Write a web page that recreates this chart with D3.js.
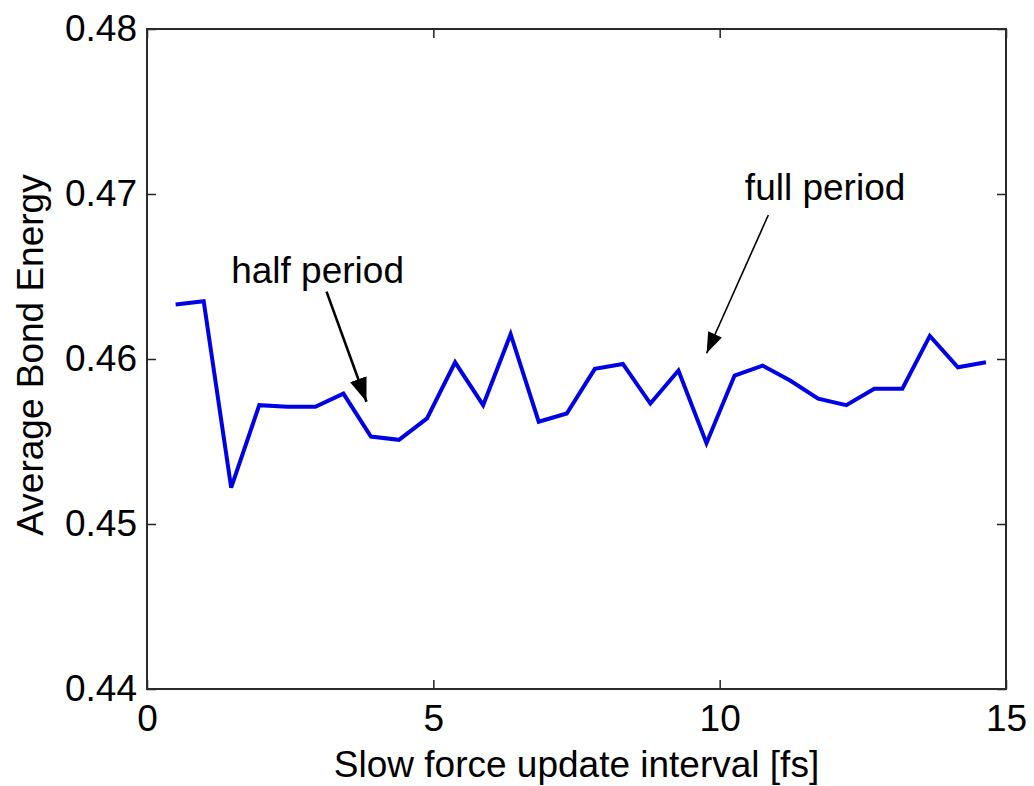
<!DOCTYPE html>
<html>
<head>
<meta charset="utf-8">
<script src="https://d3js.org/d3.v7.min.js"></script>
<style>
  body { margin: 0; background: #fff; }
  svg { display: block; font-family: "Liberation Sans", Arial, sans-serif; }
  .tick text { font-size: 37px; fill: #000; }
</style>
</head>
<body>
<svg width="1034" height="786"></svg>
<script>
  // slow force update interval [fs]
  var intervals = [0.50, 0.99, 1.47, 1.96, 2.45, 2.94, 3.43, 3.91, 4.40, 4.89,
                   5.38, 5.87, 6.35, 6.84, 7.33, 7.82, 8.31, 8.79, 9.28, 9.77,
                   10.26, 10.75, 11.23, 11.72, 12.21, 12.70, 13.19, 13.67, 14.16, 14.65];
  // average bond energy
  var energy = [0.4633, 0.4635, 0.4522, 0.4572, 0.4571, 0.4571, 0.4579, 0.4553, 0.4551, 0.4564,
                0.4598, 0.4572, 0.4615, 0.4562, 0.4567, 0.4594, 0.4597, 0.4573, 0.4593, 0.4549,
                0.4590, 0.4596, 0.4587, 0.4576, 0.4572, 0.4582, 0.4582, 0.4614, 0.4595, 0.4598];
  var xTicks = [0, 5, 10, 15];
  var yTicks = [0.44, 0.45, 0.46, 0.47, 0.48];

  // annotation text and arrows, in data units
  var notes = [
    {label: "half period", tx: 1.47, ty: 0.4646, from: [3.135, 0.46408], to: [3.833, 0.45741], w: 2.6},
    {label: "full period", tx: 10.44, ty: 0.46964, from: [10.85, 0.46873], to: [9.772, 0.46035], w: 1.6}
  ];

  var plotL = 147, plotR = 1006, plotT = 29, plotB = 689;
  var svg = d3.select("svg");

  var x = d3.scaleLinear().domain([0, 15]).range([plotL, plotR]);
  var y = d3.scaleLinear().domain([0.44, 0.48]).range([plotB, plotT]);

  // axes: ticks drawn inward on all four sides
  svg.append("g")
    .attr("transform", "translate(0," + plotB + ")")
    .call(d3.axisBottom(x).tickValues(xTicks).tickFormat(d3.format("d"))
      .tickSize(-9).tickPadding(16));
  svg.append("g")
    .attr("transform", "translate(" + plotL + ",0)")
    .call(d3.axisLeft(y).tickValues(yTicks).tickFormat(d3.format(".2f"))
      .tickSize(-9).tickPadding(10));
  svg.append("g")
    .attr("transform", "translate(0," + plotT + ")")
    .call(d3.axisTop(x).tickValues(xTicks).tickFormat("").tickSize(-9));
  svg.append("g")
    .attr("transform", "translate(" + plotR + ",0)")
    .call(d3.axisRight(y).tickValues(yTicks).tickFormat("").tickSize(-9));

  svg.selectAll(".domain").remove();
  svg.selectAll(".tick line").attr("stroke", "#222").attr("stroke-width", 1.5);

  svg.append("rect")
    .attr("x", plotL).attr("y", plotT)
    .attr("width", plotR - plotL).attr("height", plotB - plotT)
    .attr("fill", "none").attr("stroke", "#2a2a2a").attr("stroke-width", 2);

  // the series
  var line = d3.line()
    .x(function(d, i){ return x(intervals[i]); })
    .y(function(d){ return y(d); });

  svg.append("path")
    .datum(energy)
    .attr("fill", "none")
    .attr("stroke", "#0000e6")
    .attr("stroke-width", 4)
    .attr("stroke-linejoin", "miter")
    .attr("d", line);

  // arrowheads
  var defs = svg.append("defs");
  notes.forEach(function(n, i){
    defs.append("marker")
      .attr("id", "head" + i)
      .attr("markerUnits", "userSpaceOnUse")
      .attr("viewBox", "0 0 22 16")
      .attr("refX", 22).attr("refY", 8)
      .attr("markerWidth", i == 0 ? 24 : 22)
      .attr("markerHeight", i == 0 ? 18 : 15)
      .attr("orient", "auto")
      .append("path")
      .attr("d", "M0,0 L22,8 L0,16 Z")
      .attr("fill", "#000");
  });

  svg.selectAll("line.arrow")
    .data(notes)
    .enter().append("line")
    .attr("class", "arrow")
    .attr("x1", function(d){ return x(d.from[0]); })
    .attr("y1", function(d){ return y(d.from[1]); })
    .attr("x2", function(d){ return x(d.to[0]); })
    .attr("y2", function(d){ return y(d.to[1]); })
    .attr("stroke", "#000")
    .attr("stroke-width", function(d){ return d.w; })
    .attr("marker-end", function(d, i){ return "url(#head" + i + ")"; });

  svg.selectAll("text.note")
    .data(notes)
    .enter().append("text")
    .attr("class", "note")
    .attr("x", function(d){ return x(d.tx); })
    .attr("y", function(d){ return y(d.ty); })
    .attr("font-size", "37px")
    .attr("fill", "#000")
    .text(function(d){ return d.label; });

  // axis titles
  svg.append("text")
    .attr("x", (plotL + plotR) / 2)
    .attr("y", 777)
    .attr("text-anchor", "middle")
    .attr("font-size", "37px")
    .text("Slow force update interval [fs]");

  svg.append("text")
    .attr("transform", "translate(43,355) rotate(-90)")
    .attr("text-anchor", "middle")
    .attr("font-size", "37px")
    .text("Average Bond Energy");
</script>
</body>
</html>
